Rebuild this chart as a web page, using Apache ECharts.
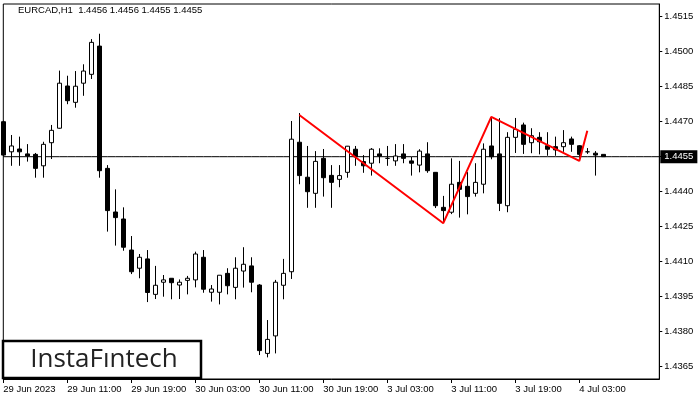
<!DOCTYPE html>
<html>
<head>
<meta charset="utf-8">
<script src="https://cdn.jsdelivr.net/npm/echarts@6/dist/echarts.min.js"></script>
<style>html,body{margin:0;padding:0;background:#fff;}#c{width:700px;height:400px;}</style>
</head>
<body>
<div id="c"></div>
<script>
// time-axis tick labels, one every 8 hourly bars
const tickLabels = ['29 Jun 2023','29 Jun 11:00','29 Jun 19:00','30 Jun 03:00','30 Jun 11:00','30 Jun 19:00','3 Jul 03:00','3 Jul 11:00','3 Jul 19:00','4 Jul 03:00'];
const priceTicks = [1.4365,1.4380,1.4395,1.4410,1.4425,1.4440,1.4455,1.4470,1.4485,1.4500,1.4515];

const opens = [
1.4470,1.44571,1.44583,1.44562,1.4456,1.44511,1.4461,1.44672,1.44853,1.44783,
1.44865,1.44903,1.45024,1.4450,1.44313,1.44283,1.4415,1.44072,1.44112,1.4396,
1.44012,1.44029,1.4400,1.4402,1.44022,1.44119,1.43969,1.43969,1.4405,1.4399,
1.4406,1.44082,1.4400,1.43707,1.43782,1.43999,1.44057,1.44612,1.44462,1.44393,
1.44543,1.4447,1.44453,1.44483,1.44582,1.44529,1.44522,1.44562,1.44543,1.44532,
1.44562,1.44532,1.44514,1.44562,1.44483,1.44333,1.44312,1.4444,1.44423,1.44393,
1.44432,1.44596,1.44562,1.4434,1.44633,1.44686,1.4461,1.44633,1.44597,1.44593,
1.44593,1.44626,1.44597,1.44571,1.44565,1.4456];
const closes = [
1.44557,1.44596,1.44571,1.44553,1.4450,1.44603,1.44663,1.44865,1.4479,1.44852,
1.44917,1.4504,1.4449,1.44319,1.44289,1.44162,1.44057,1.44119,1.43968,1.43999,
1.44022,1.4401,1.44012,1.44029,1.44133,1.43982,1.43983,1.44042,1.43997,1.44072,
1.44089,1.44012,1.43719,1.43767,1.44012,1.4405,1.44625,1.44469,1.4440,1.4453,
1.4446,1.4444,1.44469,1.44595,1.4455,1.44511,1.44582,1.44553,1.44543,1.44553,
1.44543,1.44522,1.44574,1.4449,1.4434,1.44319,1.44432,1.4441,1.44379,1.4444,
1.44582,1.4455,1.4435,1.44633,1.44667,1.44603,1.4464,1.44614,1.44582,1.44579,
1.4461,1.44603,1.4456,1.44571,1.44557,1.4455];
const highs = [
1.44704,1.44643,1.44636,1.44604,1.44566,1.44614,1.44686,1.44919,1.44897,1.44917,
1.44946,1.45054,1.45077,1.44514,1.4441,1.44333,1.4421,1.44133,1.4415,1.44082,
1.44043,1.44029,1.44024,1.44039,1.44143,1.4415,1.4400,1.44042,1.44072,1.44119,
1.44162,1.44119,1.44004,1.4385,1.44022,1.44112,1.44703,1.44737,1.44596,1.44574,
1.44583,1.44514,1.44514,1.44596,1.44596,1.44557,1.44587,1.44586,1.44596,1.44604,
1.44604,1.44549,1.44582,1.44612,1.44484,1.44382,1.44543,1.44532,1.44484,1.44522,
1.44607,1.4472,1.44715,1.44655,1.44716,1.44696,1.44672,1.44655,1.44655,1.44636,
1.44664,1.44636,1.446,1.44587,1.44574,1.4456];
const lows = [
1.44553,1.44511,1.44511,1.44529,1.4446,1.4446,1.4454,1.4467,1.44775,1.4476,
1.44811,1.44883,1.4446,1.44229,1.44169,1.44147,1.44047,1.44029,1.43927,1.4394,
1.4395,1.43939,1.4394,1.4396,1.4399,1.43967,1.43929,1.43917,1.4396,1.43939,
1.43989,1.43969,1.4370,1.4369,1.43707,1.43939,1.44026,1.44432,1.44331,1.44331,
1.44379,1.44331,1.44419,1.4446,1.44511,1.44481,1.44469,1.44522,1.44511,1.44511,
1.44522,1.44469,1.44483,1.44481,1.4433,1.44265,1.44304,1.44289,1.44303,1.44379,
1.44393,1.44539,1.44317,1.44312,1.44566,1.44562,1.44565,1.4456,1.44554,1.44554,
1.44571,1.44571,1.44543,1.44562,1.44469,1.4455];

// double-top pattern outline (bar index, price)
const patternBars = [37, 55, 61, 72, 73];
const patternPrices = [1.44729, 1.44265, 1.44721, 1.44532, 1.44661];

const lastPrice = 1.4455;
const titleText = 'EURCAD,H1  1.4456 1.4456 1.4455 1.4455';
const logoText = 'InstaF\u0131ntech';

const slotCount = 83; // bar slots including empty right margin
const categories = [];
for (let i = 0; i < slotCount; i++) categories.push(String(i));

const candleData = opens.map((o, i) => [o, closes[i], lows[i], highs[i]]);
const patternData = patternBars.map((b, i) => [String(b), patternPrices[i]]);
const lastPriceData = categories.map(() => lastPrice);

const chart = echarts.init(document.getElementById('c'), null, {renderer: 'canvas'});
const FONT = 'Liberation Sans';
chart.setOption({
  animation: false,
  backgroundColor: '#fff',
  grid: {left: 3.3, right: 40.7, top: 4, bottom: 21, show: true, borderColor: '#000', borderWidth: 1, backgroundColor: 'transparent'},
  xAxis: {
    type: 'category',
    data: categories,
    boundaryGap: false,
    axisLine: {show: true, lineStyle: {color: '#000', width: 1}},
    axisTick: {show: true, length: 4, lineStyle: {color: '#000'}, interval: (idx) => idx % 8 === 0 && idx / 8 < tickLabels.length},
    axisLabel: {
      show: true, margin: 5, align: 'left', fontSize: 9.5, fontFamily: FONT, color: '#000',
      interval: (idx) => idx % 8 === 0 && idx / 8 < tickLabels.length,
      formatter: (v, idx) => tickLabels[idx / 8] || ''
    },
    splitLine: {show: false}
  },
  yAxis: {
    type: 'value',
    position: 'right',
    min: 1.435973,
    max: 1.452044,
    scale: true,
    axisLine: {show: true, lineStyle: {color: '#000', width: 1}},
    axisTick: {show: true, length: 3, lineStyle: {color: '#000'}, customValues: priceTicks},
    axisLabel: {show: true, margin: 5, fontSize: 9.5, fontFamily: FONT, color: '#000', customValues: priceTicks, formatter: (v) => v.toFixed(4)},
    splitLine: {show: false}
  },
  graphic: [
    {type: 'text', left: 18, top: 5, style: {text: titleText, font: '9.5px "Liberation Sans"', fill: '#000'}, z: 100},
    {type: 'rect', shape: {x: 3, y: 341, width: 198, height: 37}, style: {fill: '#fff', stroke: '#000', lineWidth: 2.5}, z: 100},
    {type: 'text', x: 104, y: 360, style: {text: logoText, font: '26px "Open Sans"', fill: '#222', align: 'center', verticalAlign: 'middle'}, z: 101}
  ],
  series: [
    {
      type: 'line',
      data: lastPriceData,
      symbol: 'none',
      silent: true,
      lineStyle: {color: '#000', width: 1},
      z: 1,
      endLabel: {show: true, distance: 1, formatter: () => lastPrice.toFixed(4), backgroundColor: '#000', color: '#fff', fontSize: 9.5, fontFamily: FONT, padding: [2, 4, 1, 4]}
    },
    {
      type: 'candlestick',
      data: candleData,
      barWidth: 5,
      clip: true,
      z: 3,
      itemStyle: {color: '#fff', color0: '#000', borderColor: '#000', borderColor0: '#000', borderWidth: 1}
    },
    {
      type: 'line',
      data: patternData,
      symbol: 'none',
      lineStyle: {color: '#f00', width: 2},
      z: 10
    }
  ]
});
</script>
</body>
</html>
